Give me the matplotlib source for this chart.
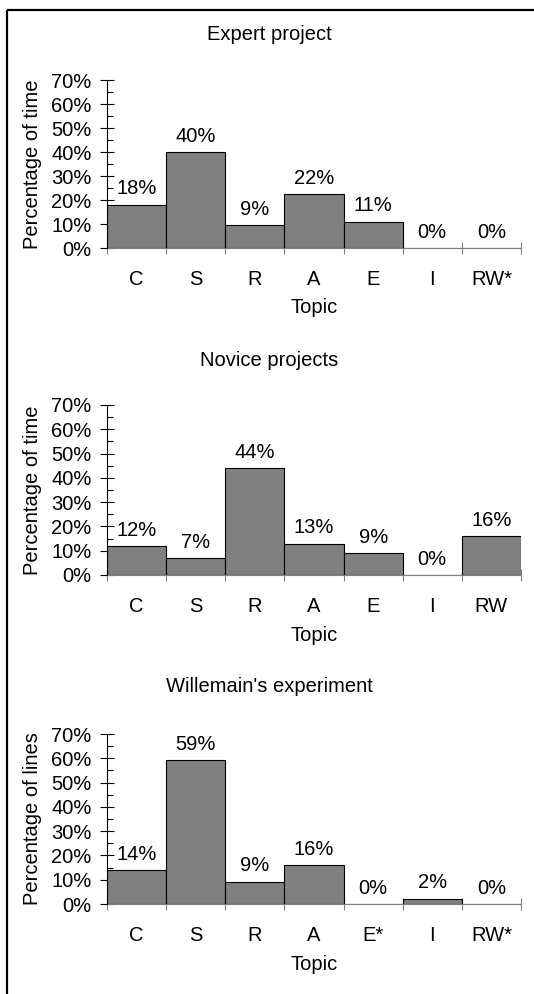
import numpy as np
import matplotlib
matplotlib.use("Agg")
import matplotlib.pyplot as plt
from matplotlib.lines import Line2D
from matplotlib.ticker import FixedLocator, NullFormatter, FixedFormatter

plt.rcParams["font.family"] = ["Liberation Sans", "DejaVu Sans"]
plt.rcParams["font.size"] = 14.5

# =========================================================
# DATA
# =========================================================

topics_expert = ["C", "S", "R", "A", "E", "I", "RW*"]
topics_novice = ["C", "S", "R", "A", "E", "I", "RW"]
topics_willemain = ["C", "S", "R", "A", "E*", "I", "RW*"]

expert_share = [0.18, 0.398, 0.094, 0.224, 0.11, 0.0, 0.0]
novice_share = [0.118, 0.068, 0.439, 0.128, 0.089, 0.0, 0.159]
willemain_share = [0.14, 0.593, 0.092, 0.159, 0.0, 0.021, 0.0]

titles = ["Expert project", "Novice projects", "Willemain's experiment"]
ylabels = ["Percentage of time", "Percentage of time", "Percentage of lines"]
yticks = [0.0, 0.1, 0.2, 0.3, 0.4, 0.5, 0.6, 0.7]


# =========================================================
# FIGURE
# =========================================================

W, H = 534, 994
fig = plt.figure(figsize=(W / 100, H / 100), dpi=100)

# panel geometry in pixels: (axis bottom y, axis top y, title y)
panels = [(248, 80, 34), (575, 405, 361), (904, 734, 687)]
ax_left, ax_right = 107, 521

datasets = [
    (topics_expert, expert_share),
    (topics_novice, novice_share),
    (topics_willemain, willemain_share),
]

for (labels, values), (yb, yt, ty), title, ylab in zip(datasets, panels, titles, ylabels):
    ax = fig.add_axes([ax_left / W, 1 - yb / H, (ax_right - ax_left) / W, (yb - yt) / H])
    x = np.arange(len(labels))
    ax.bar(x, values, width=1.0, color="#808080", edgecolor="black", linewidth=0.8, zorder=3)

    for xi, v in zip(x, values):
        ax.annotate(f"{round(v * 100)}%", (xi, v), xytext=(0, 7.5), textcoords="offset points",
                    ha="center", va="baseline")

    ax.set_xlim(-0.5, len(labels) - 0.5)
    ax.set_ylim(0, 0.7)

    for s in ["top", "right"]:
        ax.spines[s].set_visible(False)
    ax.spines["left"].set_color("black")
    ax.spines["bottom"].set_color("#808080")
    ax.spines["left"].set_zorder(4)

    # y axis
    ax.set_yticks(yticks)
    ax.set_yticklabels([f"{int(round(t * 100))}%" for t in yticks])
    ax.yaxis.set_minor_locator(FixedLocator(np.arange(0.05, 0.7, 0.1)))
    ax.tick_params(axis="y", which="major", direction="inout", length=9.4, width=0.8, pad=6.5)
    ax.tick_params(axis="y", which="minor", direction="in", length=4.3, width=0.8)

    # x axis: ticks at boundaries, labels at centers
    ax.xaxis.set_major_locator(FixedLocator(np.arange(-0.5, len(labels), 1.0)))
    ax.xaxis.set_major_formatter(NullFormatter())
    ax.xaxis.set_minor_locator(FixedLocator(x))
    ax.xaxis.set_minor_formatter(FixedFormatter(labels))
    ax.tick_params(axis="x", which="major", direction="inout", length=8.6, width=0.8, color="#808080")
    ax.tick_params(axis="x", which="minor", length=0, pad=16)

    ax.set_ylabel(ylab)
    ax.yaxis.set_label_coords(-0.157, 0.5)
    ax.set_xlabel("Topic")
    ax.xaxis.set_label_coords(0.5, -0.30)

    fig.text(269 / W, 1 - ty / H, title, ha="center", va="center")

# page frame (top and left edges)
fig.add_artist(Line2D([7 / W, 1.0], [1 - 10 / H, 1 - 10 / H], color="black",
                      linewidth=1.6, solid_capstyle="butt"))
fig.add_artist(Line2D([7 / W, 7 / W], [0.0, 1 - 10 / H], color="black",
                      linewidth=1.6, solid_capstyle="butt"))

fig.savefig("out.png", dpi=100)
